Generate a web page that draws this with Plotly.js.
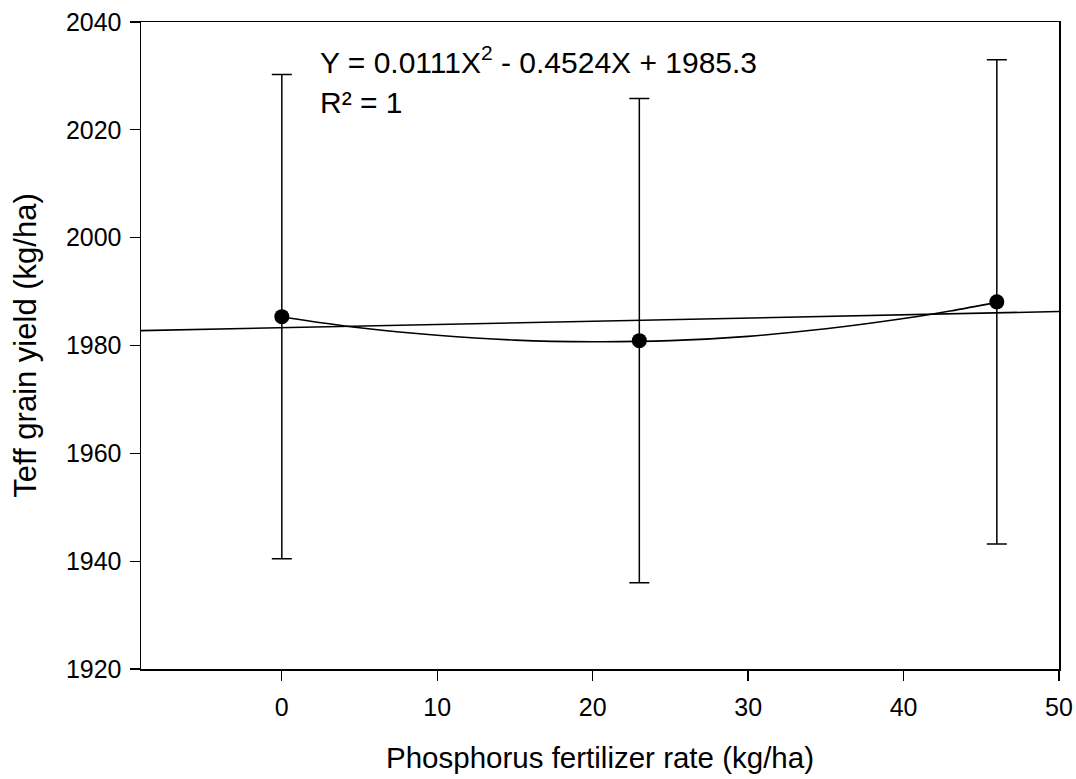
<!DOCTYPE html>
<html>
<head>
<meta charset="utf-8">
<script src="https://cdn.plot.ly/plotly-3.0.1.min.js"></script>
<style>html,body{margin:0;padding:0;background:#fff;}#chart{width:1076px;height:779px;}</style>
</head>
<body>
<div id="chart"></div>
<script>
// Observed means and error bars
const rateX = [0, 23, 46];
const yieldY = [1985.35, 1980.9, 1988.1];
const yieldErr = [44.9, 44.9, 44.9];

// Quadratic fit curve
const curveX = [0, 5, 10, 15, 20, 25, 30, 35, 40, 43, 46];
const curveY = [1985.3, 1983.3, 1981.9, 1981.0, 1980.7, 1980.9, 1981.7, 1983.1, 1985.0, 1986.4, 1988.0];

// Straight line across plot
const lineX = [-9.1, 50];
const lineY = [1982.75, 1986.3];

const xTicks = [0, 10, 20, 30, 40, 50];
const yTicks = [1920, 1940, 1960, 1980, 2000, 2020, 2040];

const FONT = 'Arial, "Liberation Sans", sans-serif';

const traces = [
  {x: lineX, y: lineY, mode: 'lines', line: {color: '#000', width: 1.6}, hoverinfo: 'skip', showlegend: false},
  {x: curveX, y: curveY, mode: 'lines', line: {color: '#000', width: 1.6, shape: 'spline'}, hoverinfo: 'skip', showlegend: false},
  {x: rateX, y: yieldY, mode: 'markers', marker: {color: '#000', size: 15},
   error_y: {type: 'data', array: yieldErr, visible: true, color: '#000', thickness: 1.5, width: 10},
   showlegend: false}
];

const layout = {
  width: 1076, height: 779,
  margin: {l: 141, r: 17, t: 22, b: 110},
  paper_bgcolor: '#fff', plot_bgcolor: '#fff',
  font: {family: FONT, color: '#000', size: 25},
  xaxis: {
    range: [-9.06, 50], tickvals: xTicks, ticks: 'outside', ticklen: 10, tickwidth: 1.3, tickcolor: '#000',
    showgrid: false, zeroline: false, showline: true, linecolor: '#000', linewidth: 1.5, mirror: true,
    tickfont: {size: 25, family: FONT}, ticklabelstandoff: 5,
    title: {text: 'Phosphorus fertilizer rate (kg/ha)', font: {size: 29.5, family: FONT}, standoff: 28}
  },
  yaxis: {
    range: [1920, 2040], tickvals: yTicks, ticks: 'outside', ticklen: 10, tickwidth: 1.3, tickcolor: '#000',
    showgrid: false, zeroline: false, showline: true, linecolor: '#000', linewidth: 1.5, mirror: true,
    tickfont: {size: 25, family: FONT}, ticklabelstandoff: 3,
    title: {text: 'Teff grain yield (kg/ha)', font: {size: 31, family: FONT}, standoff: 20}
  },
  annotations: [
    {x: 2.3, y: 2033.0, xref: 'x', yref: 'y', xanchor: 'left', yanchor: 'middle', showarrow: false,
     text: 'Y = 0.0111X<sup>2</sup> - 0.4524X + 1985.3', font: {size: 30, family: FONT}},
    {x: 2.3, y: 2025.0, xref: 'x', yref: 'y', xanchor: 'left', yanchor: 'middle', showarrow: false,
     text: 'R² = 1', font: {size: 30, family: FONT}}
  ]
};

Plotly.newPlot('chart', traces, layout, {displayModeBar: false, staticPlot: true});
</script>
</body>
</html>
